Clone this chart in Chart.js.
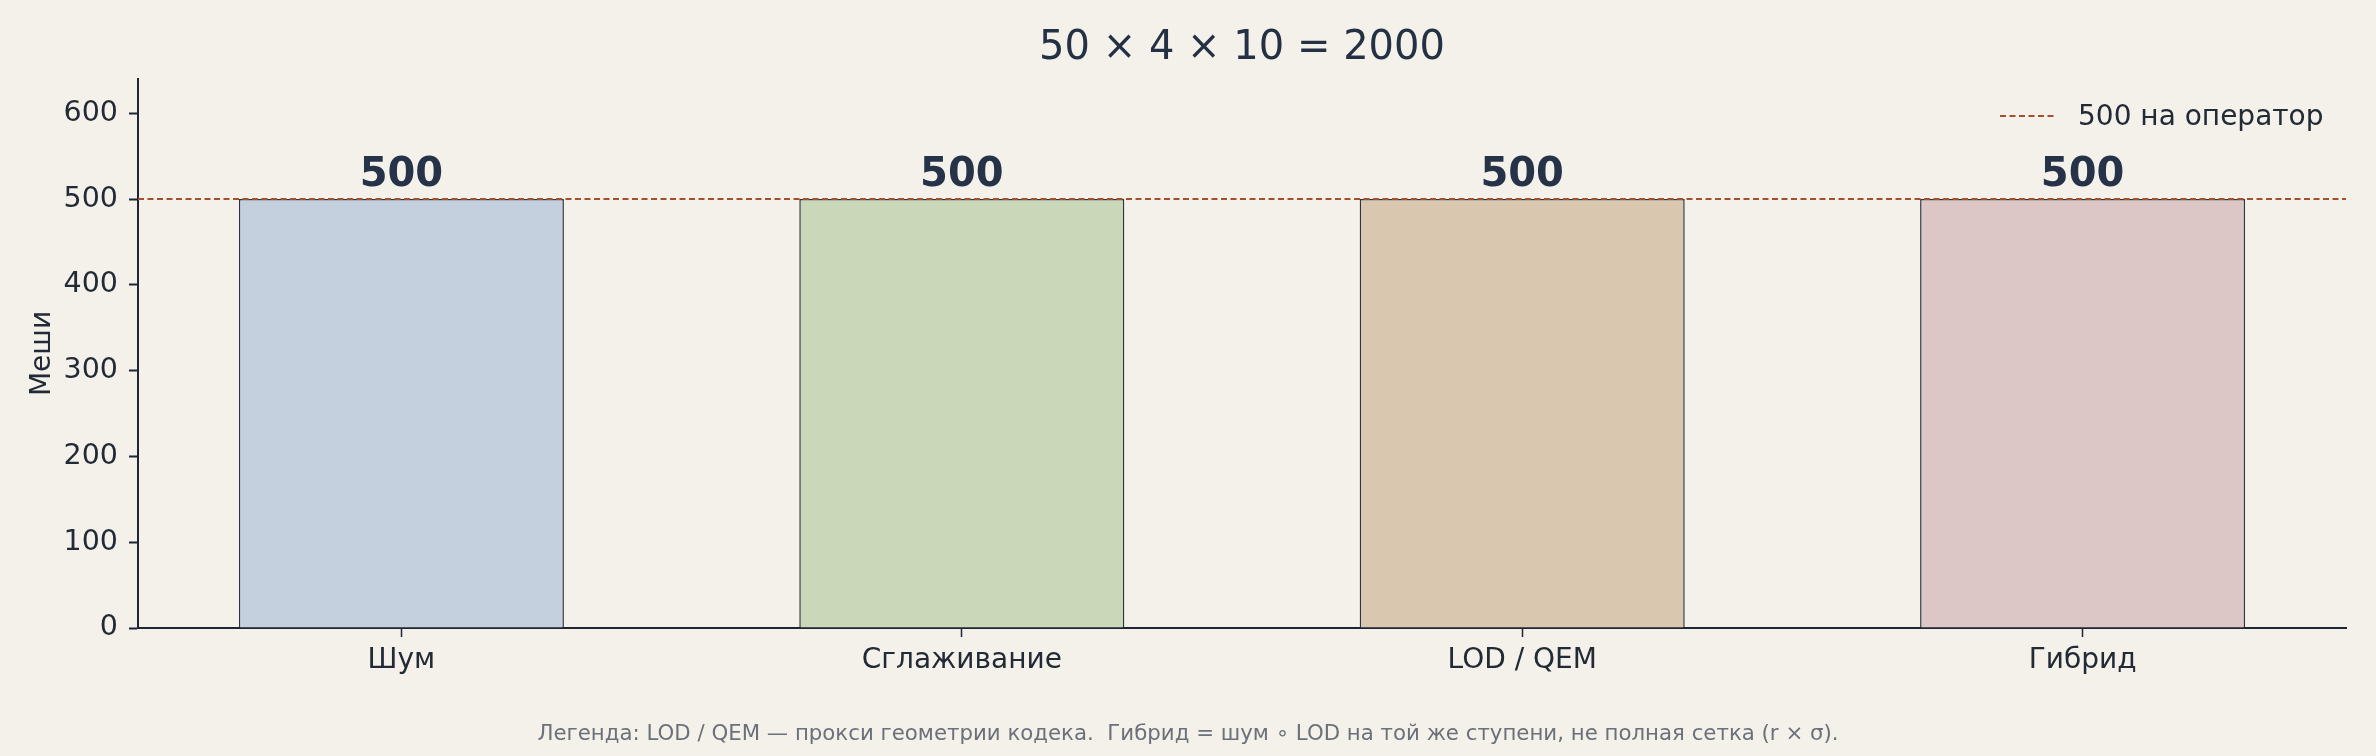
<!DOCTYPE html>
<html>
<head>
<meta charset="utf-8">
<script src="https://cdn.jsdelivr.net/npm/chart.js@4.4.1/dist/chart.umd.min.js"></script>
<style>
  html, body { margin: 0; padding: 0; background: #f4f1ea; }
  canvas { display: block; }
</style>
</head>
<body>
<canvas id="c" width="2376" height="756" style="width:2376px;height:756px"></canvas>
<script>
// ---- data ----
const categories = ['Шум', 'Сглаживание', 'LOD / QEM', 'Гибрид'];
const meshCounts = [500, 500, 500, 500];
const referenceValue = [500];
const yTickValues = [0, 100, 200, 300, 400, 500, 600];
const titleText = '50 × 4 × 10 = 2000';
const yAxisLabel = 'Меши';
const legendLabel = '500 на оператор';
const footerText = 'Легенда: LOD / QEM — прокси геометрии кодека.  Гибрид = шум ∘ LOD на той же ступени, не полная сетка (r × σ).';

// ---- styles ----
const barColors = ['#c5d0de', '#cad7b8', '#d9c7b0', '#dcc6c6'];
const FONT = '"DejaVu Sans", "Noto Sans", sans-serif';
const INK = '#243044';
const AXIS = '#1f2633';
const REF = '#a3502d';
const BG = '#f4f1ea';

const W = 2376, H = 756;
const plotLeft = 138, plotRight = 2346, plotTop = 79, plotBottom = 628;
const xAxisH = 60;

const bgPlugin = {
  id: 'bg',
  beforeDraw(chart) {
    const ctx = chart.ctx;
    ctx.save();
    ctx.fillStyle = BG;
    ctx.fillRect(0, 0, chart.width, chart.height);
    ctx.restore();
  }
};

const overlayPlugin = {
  id: 'overlay',
  afterDatasetsDraw(chart) {
    const ctx = chart.ctx;
    const ca = chart.chartArea;
    const ys = chart.scales.y;
    // reference dashed line
    const yr = ys.getPixelForValue(referenceValue[0]);
    ctx.save();
    ctx.strokeStyle = REF;
    ctx.lineWidth = 2;
    ctx.setLineDash([6, 3.5]);
    ctx.beginPath();
    ctx.moveTo(ca.left, yr);
    ctx.lineTo(ca.right, yr);
    ctx.stroke();
    ctx.restore();

    // value labels
    const meta = chart.getDatasetMeta(0);
    ctx.save();
    ctx.fillStyle = '#253247';
    ctx.font = 'bold 40px ' + FONT;
    ctx.textAlign = 'center';
    ctx.textBaseline = 'alphabetic';
    meta.data.forEach((bar, i) => {
      ctx.fillText(String(meshCounts[i]), bar.x, bar.y - 13);
    });
    ctx.restore();

    // legend (upper right inside plot)
    ctx.save();
    ctx.strokeStyle = REF;
    ctx.lineWidth = 2;
    ctx.setLineDash([6, 3.5]);
    ctx.beginPath();
    ctx.moveTo(2000, 116);
    ctx.lineTo(2056, 116);
    ctx.stroke();
    ctx.setLineDash([]);
    ctx.fillStyle = '#222a36';
    ctx.font = '28px ' + FONT;
    ctx.textAlign = 'left';
    ctx.textBaseline = 'middle';
    ctx.fillText(legendLabel, 2078, 118);
    ctx.restore();
  },
  afterDraw(chart) {
    const ctx = chart.ctx;
    ctx.save();
    // title
    ctx.fillStyle = INK;
    ctx.font = '40px ' + FONT;
    ctx.textAlign = 'center';
    ctx.textBaseline = 'middle';
    ctx.fillText(titleText, (plotLeft + plotRight) / 2, 49);
    // y axis label
    ctx.save();
    ctx.translate(43, (plotTop + plotBottom) / 2);
    ctx.rotate(-Math.PI / 2);
    ctx.fillStyle = '#222a36';
    ctx.font = '28px ' + FONT;
    ctx.fillText(yAxisLabel, 0, 0);
    ctx.restore();
    // footer
    ctx.fillStyle = '#6b7079';
    ctx.font = '21.3px ' + FONT;
    ctx.fillText(footerText, W / 2, 734);
    ctx.restore();
  }
};

new Chart(document.getElementById('c'), {
  type: 'bar',
  data: {
    datasets: [{
      data: meshCounts.map((v, i) => ({ x: i, y: v })),
      backgroundColor: barColors,
      borderColor: '#2c3442',
      borderWidth: 1.5,
      borderSkipped: 'start',
      categoryPercentage: 1.0,
      barPercentage: 0.58
    }]
  },
  options: {
    responsive: false,
    maintainAspectRatio: false,
    devicePixelRatio: 1,
    animation: false,
    layout: {
      padding: { left: 0, top: plotTop, right: W - plotRight, bottom: H - plotBottom - xAxisH }
    },
    plugins: {
      legend: { display: false },
      title: { display: false },
      tooltip: { enabled: false }
    },
    scales: {
      x: {
        type: 'linear',
        offset: false,
        min: -0.47,
        max: 3.47,
        afterBuildTicks(scale) {
          scale.ticks = categories.map((c, i) => ({ value: i }));
        },
        afterFit(scale) { scale.height = xAxisH; },
        ticks: {
          callback: (v) => categories[v] ?? '',
          color: '#222a36',
          font: { family: FONT, size: 28 },
          padding: 7,
          maxRotation: 0,
          autoSkip: false
        },
        grid: {
          display: true,
          offset: false,
          drawOnChartArea: false,
          drawTicks: true,
          tickLength: 9,
          tickWidth: 1.5,
          tickColor: AXIS
        },
        border: { display: true, color: AXIS, width: 2 }
      },
      y: {
        type: 'linear',
        min: 0,
        max: 640,
        afterBuildTicks(scale) {
          scale.ticks = yTickValues.map(v => ({ value: v }));
        },
        afterFit(scale) { scale.width = plotLeft; },
        ticks: {
          color: '#222a36',
          font: { family: FONT, size: 28.5 },
          padding: 11
        },
        grid: {
          display: true,
          drawOnChartArea: false,
          drawTicks: true,
          tickLength: 9,
          tickWidth: 2,
          tickColor: AXIS
        },
        border: { display: true, color: AXIS, width: 2 }
      }
    }
  },
  plugins: [bgPlugin, overlayPlugin]
});
</script>
</body>
</html>
